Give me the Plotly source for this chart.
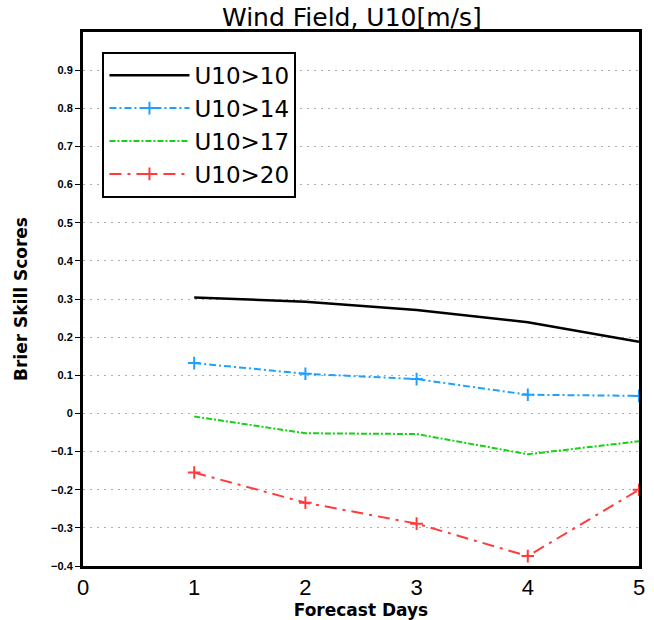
import plotly.graph_objects as go

# Brier skill scores of 10 m wind speed exceedance, by forecast lead time
days = [1, 2, 3, 4, 5]
u10_gt10 = [0.304, 0.293, 0.271, 0.239, 0.188]
u10_gt14 = [0.132, 0.104, 0.090, 0.049, 0.046]
u10_gt17 = [-0.008, -0.052, -0.054, -0.107, -0.073]
u10_gt20 = [-0.155, -0.234, -0.289, -0.374, -0.200]

y_ticks = [-0.4, -0.3, -0.2, -0.1, 0, 0.1, 0.2, 0.3, 0.4, 0.5, 0.6, 0.7, 0.8, 0.9]
y_labels = ["\u22120.4", "\u22120.3", "\u22120.2", "\u22120.1", "0",
            "0.1", "0.2", "0.3", "0.4", "0.5", "0.6", "0.7", "0.8", "0.9"]
x_ticks = [0, 1, 2, 3, 4, 5]

series = [
    ("U10>10", u10_gt10, "black", "solid", None, 2.5),
    ("U10>14", u10_gt14, "rgb(30,160,255)", "7px,3px,2px,3px", "cross-thin", 2),
    ("U10>17", u10_gt17, "rgb(20,210,20)", "6px,2px,2px,2px", None, 2),
    ("U10>20", u10_gt20, "rgb(255,60,60)", "12px,6px,3px,6px", "cross-thin", 2),
]

fig = go.Figure()
for name, vals, color, dash, symbol, width in series:
    mode = "lines+markers" if symbol else "lines"
    fig.add_trace(go.Scatter(
        x=days, y=vals, name=name, mode=mode,
        line=dict(color=color, dash=dash, width=width),
        marker=dict(symbol=symbol or "circle", size=9,
                    line=dict(color=color, width=2)) if symbol else None,
    ))

fig.update_layout(
    width=654, height=620,
    margin=dict(l=83, r=15, t=32, b=54, autoexpand=False),
    paper_bgcolor="white", plot_bgcolor="white",
    showlegend=True,
    legend=dict(
        x=0.035, y=0.963, xanchor="left", yanchor="top",
        bordercolor="black", borderwidth=2, bgcolor="white",
        font=dict(family="DejaVu Sans", size=23, color="black"),
        itemwidth=80, tracegroupgap=0,
    ),
    annotations=[
        dict(text="Wind Field, U10[m/s]", xref="paper", yref="paper",
             x=0.484, y=1.058, xanchor="center", yanchor="top",
             showarrow=False, font=dict(family="DejaVu Sans", size=25, color="black")),
    ],
)

fig.update_xaxes(
    range=[0, 5], tickvals=x_ticks, ticks="", automargin=False,
    showgrid=False, zeroline=False,
    showline=True, linecolor="black", linewidth=3, mirror=True,
    tickfont=dict(family="Liberation Sans", size=22, color="black"),
    title=dict(text="<b>Forecast Days</b>", standoff=2,
               font=dict(family="DejaVu Sans", size=17, color="black")),
)
fig.update_yaxes(
    range=[-0.4, 1.0], tickvals=y_ticks, ticktext=y_labels, automargin=False,
    ticks="outside", ticklen=5, tickwidth=1, tickcolor="black",
    showgrid=True, gridcolor="rgb(175,175,175)", griddash="2px,5px", gridwidth=1,
    zeroline=False,
    showline=True, linecolor="black", linewidth=3, mirror=True,
    tickfont=dict(family="Liberation Sans", size=11, color="black", weight="bold"),
    title=dict(text="<b>Brier Skill Scores</b>", standoff=20,
               font=dict(family="DejaVu Sans", size=17, color="black")),
)

fig.write_html("out.html")
